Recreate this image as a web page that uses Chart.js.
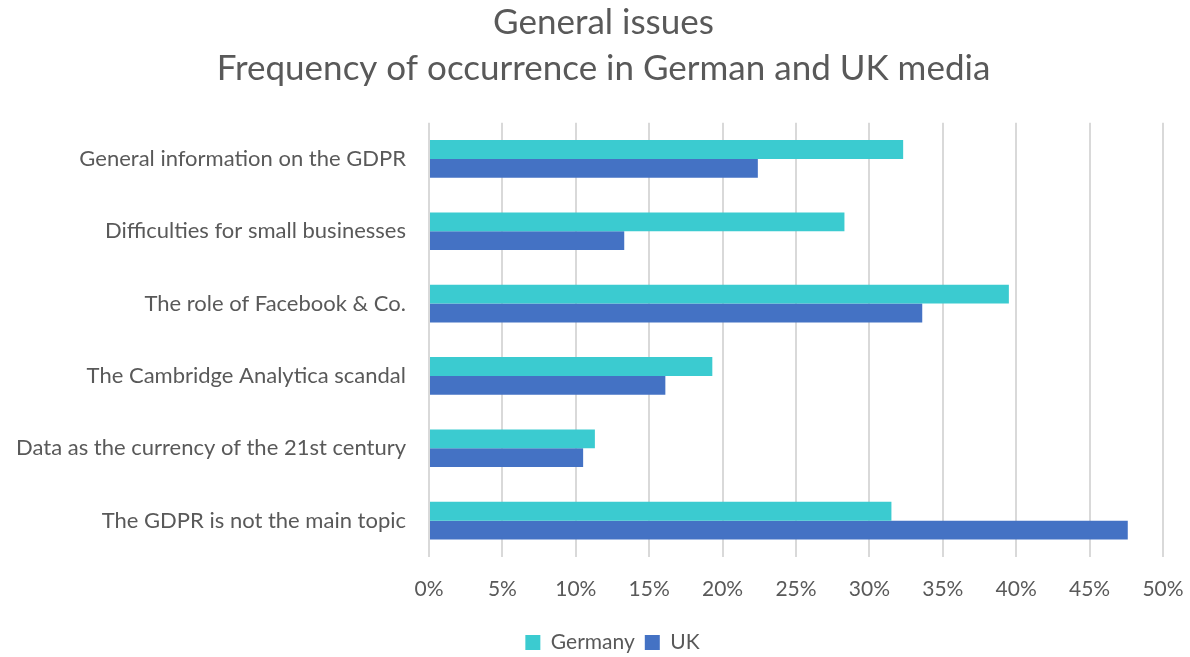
<!DOCTYPE html>
<html>
<head>
<meta charset="utf-8">
<script src="https://cdn.jsdelivr.net/npm/chart.js@4/dist/chart.umd.min.js"></script>
<style>
  html, body { margin: 0; padding: 0; background: #fff; }
  #wrap { width: 1190px; height: 657px; position: relative; }
</style>
</head>
<body>
<div id="wrap"><canvas id="chart"></canvas></div>
<script>
// Data
const categories = [
    'General information on the GDPR',
    'Difficulties for small businesses',
    'The role of Facebook & Co.',
    'The Cambridge Analytica scandal',
    'Data as the currency of the 21st century',
    'The GDPR is not the main topic'
];
const germany = [32.3, 28.3, 39.5, 19.3, 11.3, 31.5];
const uk = [22.4, 13.3, 33.6, 16.1, 10.5, 47.6];
const titleLines = ['General issues', 'Frequency of occurrence in German and UK media'];

const FONT = 'Lato, "Open Sans", sans-serif';
const TEXT = '#595959';

// title and legend sit a little right of centre in the original
const nudgeBlocks = {
    id: 'nudgeBlocks',
    afterLayout(chart) {
        const move = (box, dx) => {
            if (!box) return;
            box.left += dx;
            box.right += dx;
        };
        move(chart.titleBlock, 22);
        move(chart.legend, 31);
    }
};

const ctx = document.getElementById('chart').getContext('2d');
new Chart(ctx, {
    type: 'bar',
    data: {
        labels: categories,
        datasets: [
            { label: 'Germany', data: germany, backgroundColor: '#3bcbd0' },
            { label: 'UK', data: uk, backgroundColor: '#4472c4' }
        ]
    },
    plugins: [nudgeBlocks],
    options: {
        indexAxis: 'y',
        responsive: true,
        maintainAspectRatio: false,
        animation: false,
        // negative bottom pushes the legend a bit lower, like the original
        layout: { padding: { left: 0, right: 27, top: 0, bottom: -6 } },
        datasets: {
            bar: { categoryPercentage: 0.52, barPercentage: 1.0 }
        },
        plugins: {
            title: {
                display: true,
                text: titleLines,
                color: TEXT,
                font: { family: FONT, size: 35, weight: 'normal', lineHeight: 1.31 },
                padding: { top: 0, bottom: 31 }
            },
            legend: {
                position: 'bottom',
                labels: {
                    color: TEXT,
                    font: { family: FONT, size: 21 },
                    boxWidth: 15,
                    boxHeight: 15,
                    padding: 10
                }
            },
            tooltip: { enabled: false }
        },
        scales: {
            x: {
                min: 0,
                max: 50,
                ticks: {
                    stepSize: 5,
                    color: TEXT,
                    font: { family: FONT, size: 21 },
                    padding: 20,
                    callback: v => v + '%'
                },
                grid: { color: '#d9d9d9', lineWidth: 2, drawTicks: false },
                border: { display: false },
                afterFit: scale => { scale.paddingRight = 0; }
            },
            y: {
                ticks: {
                    color: TEXT,
                    font: { family: FONT, size: 22 },
                    padding: 15
                },
                grid: { display: false },
                border: { display: false },
                afterFit: scale => { scale.width = 429; }
            }
        }
    }
});
</script>
</body>
</html>
